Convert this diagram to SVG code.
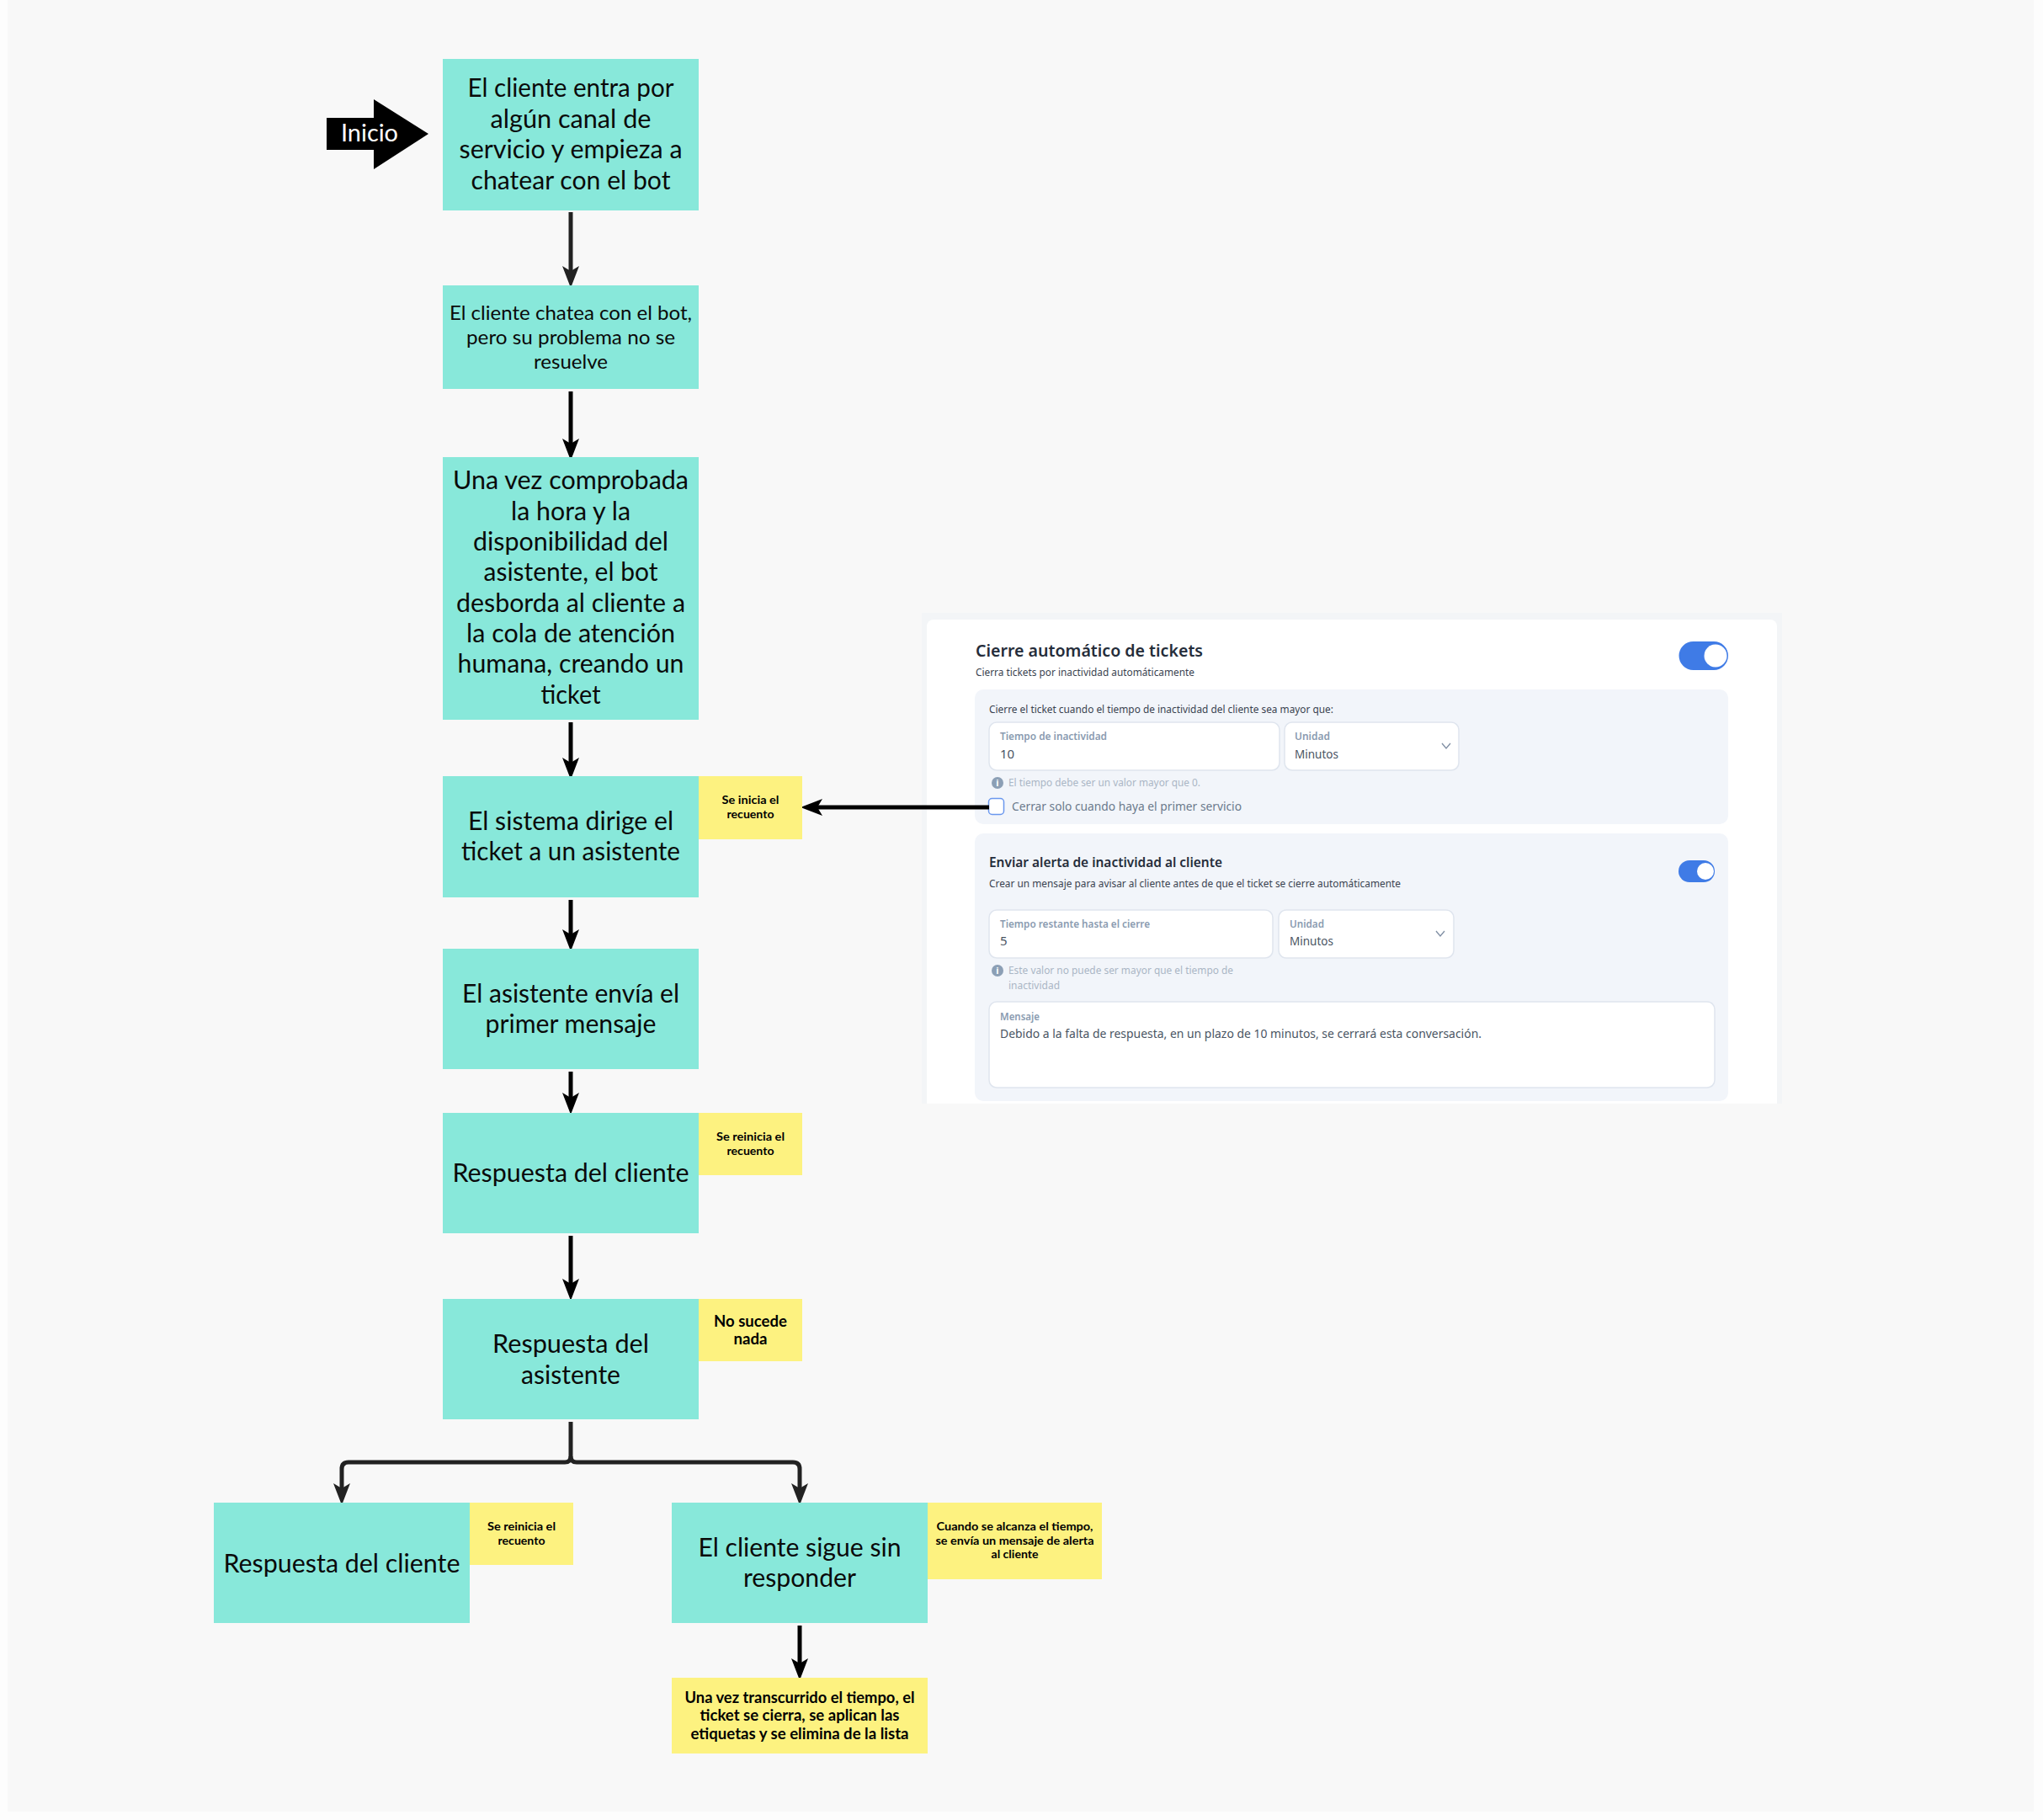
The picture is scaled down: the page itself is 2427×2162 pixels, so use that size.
<svg xmlns="http://www.w3.org/2000/svg" width="2427" height="2162" viewBox="0 0 2427 2162">
<style>
text{font-family:Lato,"Noto Sans",sans-serif;fill:#0a0a0a}
.c{text-anchor:middle}
.l{font-size:30px}.m{font-size:24px}
.n{font-size:13px;font-weight:700;fill:#000}.b{font-size:18px;font-weight:700;fill:#000}
.teal{fill:#88e8da}.yel{fill:#fdf280}
.link{fill:none;stroke:#222;stroke-width:5}.k{stroke:#000}
.p{font-family:"Noto Sans",sans-serif;font-size:13px;fill:#3a4350}
.lab{font-weight:600;fill:#8a9bb0}.val{font-size:15px;fill:#4a5563}.hint{fill:#aab6c5}
.field{fill:#fff;stroke:#dfe5ee;stroke-width:1.5}
.sec{fill:#f2f5fa}.chev{fill:none;stroke:#7f8ea3;stroke-width:1.3}
.info{fill:#8c9fb5}.tog{fill:#3f7be6}
.i{font-family:"Noto Sans",sans-serif;font-size:11px;font-weight:700;fill:#fff;text-anchor:middle}
</style>
<defs>
<marker id="ad" markerUnits="userSpaceOnUse" markerWidth="26" markerHeight="20" viewBox="0 0 26 20" refX="8" refY="10" orient="auto"><path d="M26 10L0 0L6 10L0 20Z" fill="#222"/></marker>
<marker id="ak" markerUnits="userSpaceOnUse" markerWidth="26" markerHeight="20" viewBox="0 0 26 20" refX="8" refY="10" orient="auto"><path d="M26 10L0 0L6 10L0 20Z" fill="#000"/></marker>
</defs>
<rect width="2427" height="2162" fill="#fdfdfd"/>
<rect x="9" y="0" width="2407" height="2152" fill="#f8f8f8"/>

<g id="panel">
<rect x="1095" y="728" width="1022" height="583" fill="#f3f5f7"/>
<path d="M1101 1311V744a8 8 0 0 1 8-8H2103a8 8 0 0 1 8 8V1311Z" fill="#fff"/>
<text class="p" x="1159" y="779.500" style="font-size:20px;font-weight:600;fill:#252d3a" textLength="270" lengthAdjust="spacingAndGlyphs">Cierre automático de tickets</text>
<text class="p" x="1159" y="802.500" textLength="260" lengthAdjust="spacingAndGlyphs">Cierra tickets por inactividad automáticamente</text>
<rect class="tog" x="1994.500" y="762" width="58.500" height="34" rx="17"/><circle cx="2038" cy="779" r="13.500" fill="#fff"/>
<rect class="sec" x="1158" y="819" width="895" height="160" rx="10"/>
<text class="p" x="1175" y="846.500" textLength="409" lengthAdjust="spacingAndGlyphs">Cierre el ticket cuando el tiempo de inactividad del cliente sea mayor que:</text>
<rect class="field" x="1175" y="858" width="345" height="57" rx="9"/>
<rect class="field" x="1526" y="858" width="207" height="57" rx="9"/>
<text class="p lab" x="1188" y="878.500" textLength="127" lengthAdjust="spacingAndGlyphs">Tiempo de inactividad</text>
<text class="p val" x="1188" y="901">10</text>
<text class="p lab" x="1538" y="878.500" textLength="42" lengthAdjust="spacingAndGlyphs">Unidad</text>
<text class="p val" x="1538" y="901" textLength="52" lengthAdjust="spacingAndGlyphs">Minutos</text>
<path class="chev" d="M1713 883l5 6l5-6"/>
<circle class="info" cx="1185" cy="930" r="7"/><text class="i" x="1185" y="934">i</text>
<text class="p hint" x="1198" y="933.500" textLength="228" lengthAdjust="spacingAndGlyphs">El tiempo debe ser un valor mayor que 0.</text>
<rect x="1174.500" y="948.500" width="18" height="19" rx="4" fill="#fff" stroke="#6a97ee" stroke-width="1.500"/>
<text class="p val" x="1202" y="962.500" style="fill:#6b7a8c" textLength="273" lengthAdjust="spacingAndGlyphs">Cerrar solo cuando haya el primer servicio</text>
<rect class="sec" x="1158" y="990" width="895" height="318" rx="10"/>
<text class="p" x="1175" y="1029.500" style="font-size:16px;font-weight:600;fill:#252d3a" textLength="277" lengthAdjust="spacingAndGlyphs">Enviar alerta de inactividad al cliente</text>
<text class="p" x="1175" y="1053.500" textLength="489" lengthAdjust="spacingAndGlyphs">Crear un mensaje para avisar al cliente antes de que el ticket se cierre automáticamente</text>
<rect class="tog" x="1994" y="1022" width="43" height="26" rx="13"/><circle cx="2026" cy="1035" r="10" fill="#fff"/>
<rect class="field" x="1175" y="1081" width="337" height="57" rx="9"/>
<rect class="field" x="1519" y="1081" width="208" height="57" rx="9"/>
<text class="p lab" x="1188" y="1101.500" textLength="178" lengthAdjust="spacingAndGlyphs">Tiempo restante hasta el cierre</text>
<text class="p val" x="1188" y="1123">5</text>
<text class="p lab" x="1532" y="1101.500" textLength="41" lengthAdjust="spacingAndGlyphs">Unidad</text>
<text class="p val" x="1532" y="1123" textLength="52" lengthAdjust="spacingAndGlyphs">Minutos</text>
<path class="chev" d="M1706 1106l5 6l5-6"/>
<circle class="info" cx="1185" cy="1153" r="7"/><text class="i" x="1185" y="1157">i</text>
<text class="p hint" x="1198" y="1156.500" textLength="267" lengthAdjust="spacingAndGlyphs">Este valor no puede ser mayor que el tiempo de</text>
<text class="p hint" x="1198" y="1174.500" textLength="61" lengthAdjust="spacingAndGlyphs">inactividad</text>
<rect class="field" x="1175" y="1190" width="862" height="102" rx="9"/>
<text class="p lab" x="1188" y="1211.500" textLength="47" lengthAdjust="spacingAndGlyphs">Mensaje</text>
<text class="p val" x="1188" y="1233" textLength="572" lengthAdjust="spacingAndGlyphs">Debido a la falta de respuesta, en un plazo de 10 minutos, se cerrará esta conversación.</text>
</g>

<g id="connectors">
<line class="link" x1="678" y1="252" x2="678" y2="324" marker-end="url(#ad)"/>
<line class="link k" x1="678" y1="465" x2="678" y2="529" marker-end="url(#ak)"/>
<line class="link k" x1="678" y1="858" x2="678" y2="908" marker-end="url(#ak)"/>
<line class="link k" x1="678" y1="1069" x2="678" y2="1112" marker-end="url(#ak)"/>
<line class="link k" x1="678" y1="1273" x2="678" y2="1306" marker-end="url(#ak)"/>
<line class="link k" x1="678" y1="1468" x2="678" y2="1527" marker-end="url(#ak)"/>
<path class="link" d="M678 1689V1730q0 7-7 7H414q-8 0-8 8V1770" marker-end="url(#ad)"/>
<path class="link" d="M678 1730q0 7 7 7H942q8 0 8 8V1770" marker-end="url(#ad)"/>
<line class="link k" x1="950" y1="1931" x2="950" y2="1978" marker-end="url(#ak)"/>
<line class="link k" x1="1175" y1="959" x2="969" y2="959" marker-end="url(#ak)"/>
</g>

<g id="inicio">
<path d="M388 140H444V118L509 159L444 201V178H388Z" fill="#000"/>
<text class="c" x="439" y="168" style="font-size:28px;fill:#fff" textLength="68" lengthAdjust="spacingAndGlyphs">Inicio</text>
</g>
<g id="n1"><rect class="teal" x="526" y="70" width="304" height="180"/>
<text class="l c" x="678" y="114.500" textLength="245" lengthAdjust="spacingAndGlyphs">El cliente entra por</text>
<text class="l c" x="678" y="151.500" textLength="191" lengthAdjust="spacingAndGlyphs">algún canal de</text>
<text class="l c" x="678" y="188" textLength="265" lengthAdjust="spacingAndGlyphs">servicio y empieza a</text>
<text class="l c" x="678" y="224.500" textLength="237" lengthAdjust="spacingAndGlyphs">chatear con el bot</text></g>
<g id="n2"><rect class="teal" x="526" y="339" width="304" height="123"/>
<text class="m c" x="678" y="379.500" textLength="288" lengthAdjust="spacingAndGlyphs">El cliente chatea con el bot,</text>
<text class="m c" x="678" y="408.500" textLength="248" lengthAdjust="spacingAndGlyphs">pero su problema no se</text>
<text class="m c" x="678" y="437.500" textLength="88" lengthAdjust="spacingAndGlyphs">resuelve</text></g>
<g id="n3"><rect class="teal" x="526" y="543" width="304" height="312"/>
<text class="l c" x="678" y="581" textLength="280" lengthAdjust="spacingAndGlyphs">Una vez comprobada</text>
<text class="l c" x="678" y="618" textLength="142" lengthAdjust="spacingAndGlyphs">la hora y la</text>
<text class="l c" x="678" y="654" textLength="232" lengthAdjust="spacingAndGlyphs">disponibilidad del</text>
<text class="l c" x="678" y="690" textLength="207" lengthAdjust="spacingAndGlyphs">asistente, el bot</text>
<text class="l c" x="678" y="727" textLength="272" lengthAdjust="spacingAndGlyphs">desborda al cliente a</text>
<text class="l c" x="678" y="763" textLength="248" lengthAdjust="spacingAndGlyphs">la cola de atención</text>
<text class="l c" x="678" y="799" textLength="269" lengthAdjust="spacingAndGlyphs">humana, creando un</text>
<text class="l c" x="678" y="836" textLength="71" lengthAdjust="spacingAndGlyphs">ticket</text></g>
<g id="n4"><rect class="teal" x="526" y="922" width="304" height="144"/>
<text class="l c" x="678" y="985.500" textLength="244" lengthAdjust="spacingAndGlyphs">El sistema dirige el</text>
<text class="l c" x="678" y="1022" textLength="260" lengthAdjust="spacingAndGlyphs">ticket a un asistente</text></g>
<g id="n4note"><rect class="yel" x="830" y="922" width="123" height="75"/>
<text class="n c" x="891.500" y="955" textLength="68" lengthAdjust="spacingAndGlyphs">Se inicia el</text>
<text class="n c" x="891.500" y="972" textLength="56" lengthAdjust="spacingAndGlyphs">recuento</text></g>
<g id="n5"><rect class="teal" x="526" y="1127" width="304" height="143"/>
<text class="l c" x="678" y="1190.500" textLength="258" lengthAdjust="spacingAndGlyphs">El asistente envía el</text>
<text class="l c" x="678" y="1227" textLength="203" lengthAdjust="spacingAndGlyphs">primer mensaje</text></g>
<g id="n6"><rect class="teal" x="526" y="1322" width="304" height="143"/>
<text class="l c" x="678" y="1404" textLength="281" lengthAdjust="spacingAndGlyphs">Respuesta del cliente</text></g>
<g id="n6note"><rect class="yel" x="830" y="1322" width="123" height="74"/>
<text class="n c" x="891.500" y="1355" textLength="81" lengthAdjust="spacingAndGlyphs">Se reinicia el</text>
<text class="n c" x="891.500" y="1372" textLength="56" lengthAdjust="spacingAndGlyphs">recuento</text></g>
<g id="n7"><rect class="teal" x="526" y="1543" width="304" height="143"/>
<text class="l c" x="678" y="1607" textLength="186" lengthAdjust="spacingAndGlyphs">Respuesta del</text>
<text class="l c" x="678" y="1643.500" textLength="118" lengthAdjust="spacingAndGlyphs">asistente</text></g>
<g id="n7note"><rect class="yel" x="830" y="1543" width="123" height="74"/>
<text class="b c" x="891.500" y="1575.500" textLength="87" lengthAdjust="spacingAndGlyphs">No sucede</text>
<text class="b c" x="891.500" y="1596.500" textLength="40" lengthAdjust="spacingAndGlyphs">nada</text></g>
<g id="n8"><rect class="teal" x="254" y="1785" width="304" height="143"/>
<text class="l c" x="406" y="1868" textLength="281" lengthAdjust="spacingAndGlyphs">Respuesta del cliente</text></g>
<g id="n8note"><rect class="yel" x="558" y="1785" width="123" height="74"/>
<text class="n c" x="619.500" y="1818" textLength="81" lengthAdjust="spacingAndGlyphs">Se reinicia el</text>
<text class="n c" x="619.500" y="1835" textLength="56" lengthAdjust="spacingAndGlyphs">recuento</text></g>
<g id="n9"><rect class="teal" x="798" y="1785" width="304" height="143"/>
<text class="l c" x="950" y="1848.500" textLength="241" lengthAdjust="spacingAndGlyphs">El cliente sigue sin</text>
<text class="l c" x="950" y="1884.500" textLength="134" lengthAdjust="spacingAndGlyphs">responder</text></g>
<g id="n9note"><rect class="yel" x="1102" y="1785" width="207" height="91"/>
<text class="n c" x="1205.500" y="1818" textLength="186" lengthAdjust="spacingAndGlyphs">Cuando se alcanza el tiempo,</text>
<text class="n c" x="1205.500" y="1834.500" textLength="188" lengthAdjust="spacingAndGlyphs">se envía un mensaje de alerta</text>
<text class="n c" x="1205.500" y="1851" textLength="56" lengthAdjust="spacingAndGlyphs">al cliente</text></g>
<g id="n10"><rect class="yel" x="798" y="1993" width="304" height="90"/>
<text class="b c" x="950" y="2022.500" textLength="273" lengthAdjust="spacingAndGlyphs">Una vez transcurrido el tiempo, el</text>
<text class="b c" x="950" y="2044" textLength="237" lengthAdjust="spacingAndGlyphs">ticket se cierra, se aplican las</text>
<text class="b c" x="950" y="2065.500" textLength="259" lengthAdjust="spacingAndGlyphs">etiquetas y se elimina de la lista</text></g>
</svg>
